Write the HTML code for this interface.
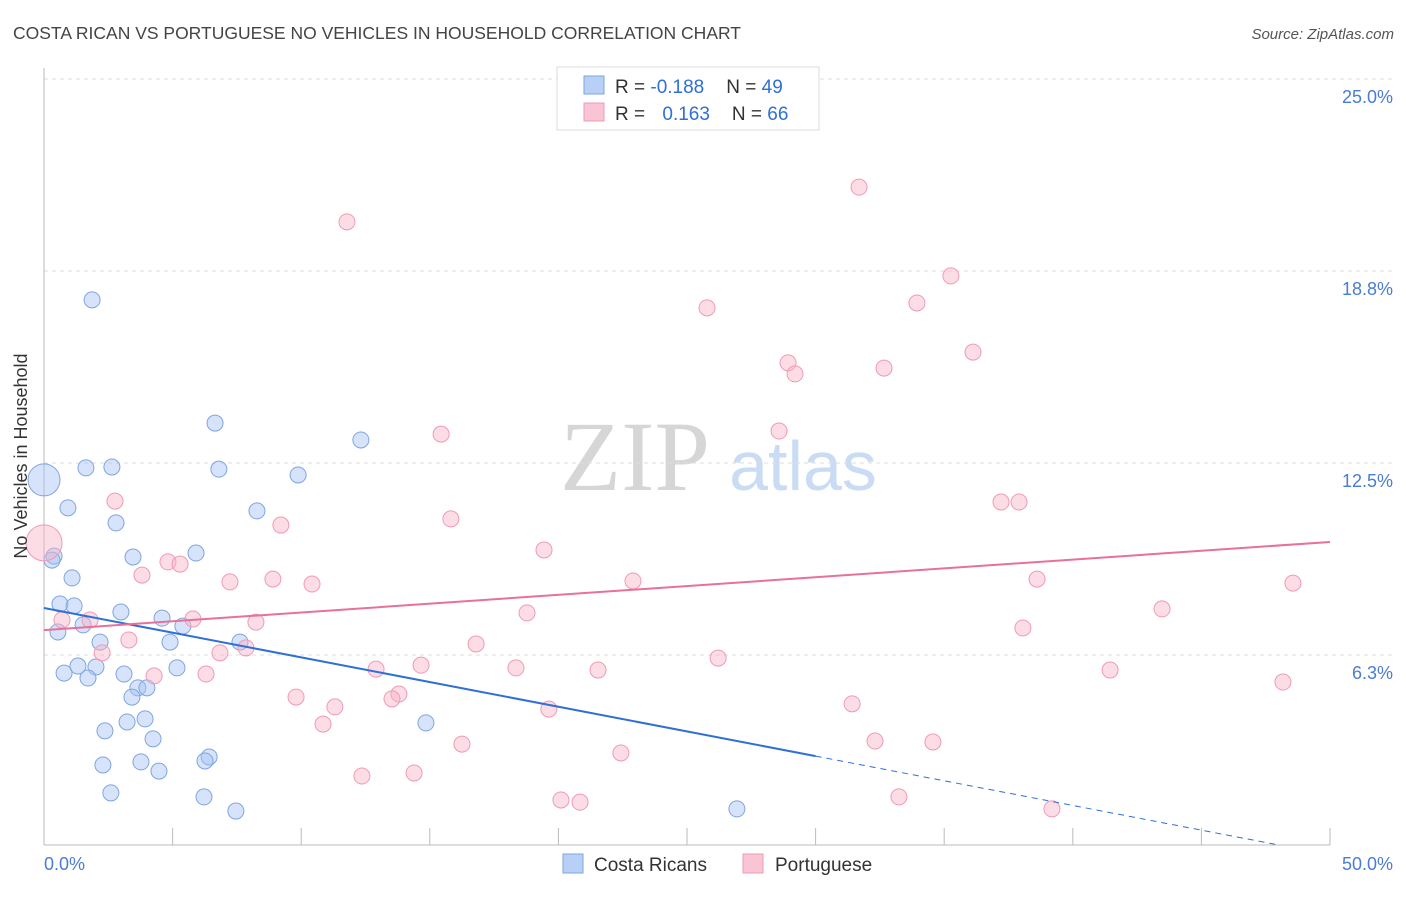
<!DOCTYPE html>
<html><head><meta charset="utf-8">
<style>
body{margin:0;background:#fff;font-family:"Liberation Sans",sans-serif;}
svg text{font-family:"Liberation Sans",sans-serif;}
</style></head>
<body>
<svg id="chart" width="1406" height="892" xmlns="http://www.w3.org/2000/svg">
<text x="13" y="39" font-size="17.5" fill="#444">COSTA RICAN VS PORTUGUESE NO VEHICLES IN HOUSEHOLD CORRELATION CHART</text>
<text x="1394" y="39" font-size="15" fill="#555" font-style="italic" text-anchor="end">Source: ZipAtlas.com</text>
<g>
<text x="635" y="490" font-size="100" fill="#d6d6d6" text-anchor="middle" style="font-family:'Liberation Serif',serif">ZIP</text>
<text x="803" y="490" font-size="70" fill="#c9dcf3" text-anchor="middle">atlas</text>
</g>
<g id="grid"></g>
<g id="axes"></g>
<g id="marks"></g>
<text x="27" y="456" font-size="18" fill="#333" text-anchor="middle" transform="rotate(-90 27 456)">No Vehicles in Household</text>
<g>
<rect x="557" y="67" width="262" height="63" fill="#fff" stroke="#ddd"/>
<rect x="584" y="76" width="20" height="18" fill="#b8d0f5" stroke="#7ea6e0"/>
<rect x="584" y="103" width="20" height="18" fill="#f9c4d4" stroke="#f09ab5"/>
<text x="615" y="93" font-size="19" fill="#333">R = <tspan fill="#2f6fd6">-0.188</tspan><tspan dx="22">N = </tspan><tspan fill="#2f6fd6">49</tspan></text>
<text x="615" y="120" font-size="19" fill="#333">R = <tspan dx="12" fill="#2f6fd6">0.163</tspan><tspan dx="22">N = </tspan><tspan fill="#2f6fd6">66</tspan></text>
</g>
<g>
<rect x="563" y="854" width="20" height="19" fill="#b8d0f5" stroke="#7ea6e0"/>
<text x="594" y="871" font-size="19" fill="#333">Costa Ricans</text>
<rect x="743" y="854" width="20" height="19" fill="#f9c4d4" stroke="#f09ab5"/>
<text x="775" y="871" font-size="19" fill="#333">Portuguese</text>
</g>
</svg>
<script>
const yTicks=[25,18.75,12.5,6.25];
const yTickLabels=["25.0%","18.8%","12.5%","6.3%"];
const xTickLabels=["0.0%","50.0%"];
const blueX=[1.87,6.65,12.32,1.63,2.64,6.80,9.88,0.93,2.80,8.28,0.39,3.46,5.91,1.09,0.62,1.17,2.99,4.59,1.52,5.40,0.54,2.18,4.90,7.62,1.32,2.02,0.78,3.11,1.71,5.17,3.65,4.00,3.42,2.37,3.23,3.93,4.24,6.42,6.26,2.29,3.77,4.47,2.60,6.22,7.46,14.85,26.94,0.31];
const blueY=[17.81,13.80,13.25,12.34,12.37,12.30,12.11,11.04,10.55,10.94,9.47,9.44,9.57,8.76,7.91,7.85,7.65,7.45,7.23,7.19,7.00,6.67,6.67,6.67,5.89,5.86,5.66,5.63,5.50,5.83,5.18,5.18,4.88,3.78,4.07,4.17,3.52,2.93,2.80,2.67,2.77,2.47,1.76,1.63,1.17,4.04,1.24,9.34];
const pinkX=[11.78,31.69,35.26,25.78,33.94,36.12,28.93,29.20,32.66,15.44,28.58,37.21,37.91,15.82,2.76,9.21,19.44,4.82,5.29,3.81,7.23,8.90,10.42,22.90,38.61,48.56,43.47,18.78,5.79,1.79,8.24,0.70,38.06,3.30,7.85,2.26,6.84,16.80,26.21,14.66,12.91,18.35,21.54,41.45,4.28,6.30,48.17,9.80,13.80,13.53,11.31,19.63,31.42,10.85,16.25,32.31,34.56,22.43,12.36,14.39,20.10,20.84,33.24,39.19];
const pinkY=[20.35,21.48,18.59,17.55,17.71,16.11,15.76,15.40,15.59,13.44,13.54,11.23,11.23,10.68,11.26,10.48,9.67,9.28,9.21,8.85,8.63,8.72,8.56,8.66,8.72,8.59,7.75,7.62,7.42,7.39,7.32,7.39,7.13,6.74,6.48,6.32,6.32,6.61,6.15,5.92,5.79,5.83,5.76,5.76,5.57,5.63,5.37,4.88,4.98,4.82,4.56,4.49,4.66,4.00,3.35,3.45,3.42,3.06,2.31,2.41,1.53,1.46,1.63,1.24];
const bigBlue=[0,11.95];
const bigPink=[0,9.90];
const blueTrend=[7.78,-0.1607];
const pinkTrend=[7.06,0.0574];

const NS="http://www.w3.org/2000/svg";
const X=v=>44+v*25.72;
const Y=v=>847-v*30.72;
function mk(tag,attrs,parent){const e=document.createElementNS(NS,tag);for(const k in attrs)e.setAttribute(k,attrs[k]);parent.appendChild(e);return e;}
const grid=document.getElementById('grid'),axes=document.getElementById('axes'),marks=document.getElementById('marks');
yTicks.forEach((t,i)=>{
  const l=mk('line',{x1:44,x2:1393,y1:Y(t),y2:Y(t),stroke:'#ddd','stroke-dasharray':'4,4'},grid);
  
  
  const tx=mk('text',{x:1393,y:Y(t)+24,'font-size':18,fill:'#4a7cd4','text-anchor':'end'},axes);
  tx.textContent=yTickLabels[i];
  
  
});
const la=mk('line',{x1:44,x2:44,y1:68,y2:845,stroke:'#bbb'},axes);


const ba=mk('line',{x1:44,x2:1330,y1:845,y2:845,stroke:'#bbb'},axes);


for(let i=0;i<=10;i++){
  const t=mk('line',{x1:X(i*5),x2:X(i*5),y1:828,y2:845,stroke:'#bbb'},axes);
  
  
}
const xl0=mk('text',{x:44,y:870,'font-size':18,fill:'#4a7cd4'},axes);xl0.textContent=xTickLabels[0];


const xl1=mk('text',{x:1393,y:870,'font-size':18,fill:'#4a7cd4','text-anchor':'end'},axes);xl1.textContent=xTickLabels[1];



blueX.forEach((x,i)=>{
  const c=mk('circle',{cx:X(x),cy:Y(blueY[i]),r:8,fill:'rgba(164,194,244,0.45)',stroke:'#7ea6e0','stroke-width':1},marks);
  
  
});
pinkX.forEach((x,i)=>{
  const c=mk('circle',{cx:X(x),cy:Y(pinkY[i]),r:8,fill:'rgba(248,180,200,0.45)',stroke:'#f09ab5','stroke-width':1},marks);
  
  
});
const bb=mk('circle',{cx:X(bigBlue[0]),cy:Y(bigBlue[1]),r:16,fill:'rgba(164,194,244,0.45)',stroke:'#7ea6e0'},marks);


const bp=mk('circle',{cx:X(bigPink[0]),cy:Y(bigPink[1]),r:18,fill:'rgba(248,180,200,0.45)',stroke:'#f09ab5'},marks);



const bt=v=>blueTrend[0]+blueTrend[1]*v, pt=v=>pinkTrend[0]+pinkTrend[1]*v;
const l1=mk('line',{x1:X(0),y1:Y(bt(0)),x2:X(30),y2:Y(bt(30)),stroke:'#2f6fd6','stroke-width':2},marks);


const l2=mk('line',{x1:X(30),y1:Y(bt(30)),x2:X(47.9),y2:Y(bt(47.9)),stroke:'#2f6fd6','stroke-width':1,'stroke-dasharray':'6,5'},marks);


const l3=mk('line',{x1:X(0),y1:Y(pt(0)),x2:X(50),y2:Y(pt(50)),stroke:'#e8709a','stroke-width':2},marks);


</script>
</body></html>
